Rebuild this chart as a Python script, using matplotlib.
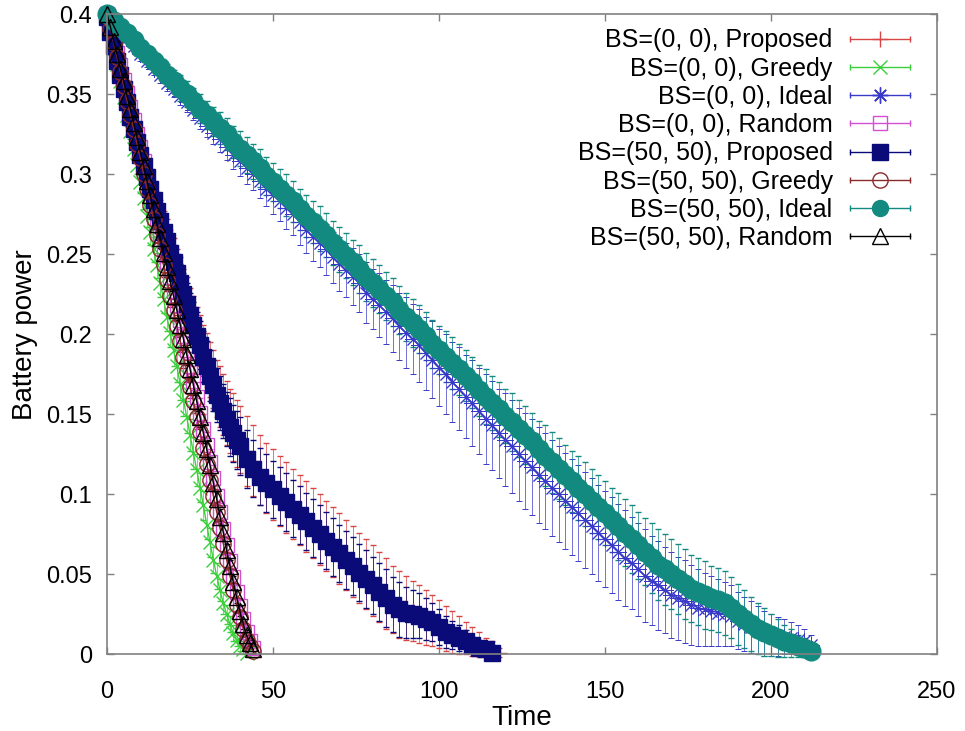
import numpy as np
import matplotlib
matplotlib.use("Agg")
import matplotlib.pyplot as plt
from matplotlib.lines import Line2D
from matplotlib.legend_handler import HandlerBase
from matplotlib.ticker import FormatStrFormatter, MultipleLocator

plt.rcParams['font.family'] = ['Liberation Sans', 'DejaVu Sans']

# --- time grids ---
t_greedy00 = np.arange(0, 43)
t_fast = np.arange(0, 45)
t_prop00 = np.r_[np.arange(0, 40), np.arange(40, 119, 2)]
t_prop50 = np.r_[np.arange(0, 40), np.arange(40, 117, 2)]
t_ideal = np.arange(0, 213, 2)

# --- BS=(0, 0) ---
prop00 = [.398, .390, .381, .373, .364, .356, .347, .339, .331, .323,
          .315, .308, .301, .294, .287, .280, .274, .267, .261, .254,
          .248, .241, .235, .228, .222, .215, .209, .202, .196, .190,
          .184, .178, .172, .166, .161, .156, .151, .146, .142, .138,
          .134, .127, .121, .115, .110, .106, .102, .098, .094, .090,
          .086, .082, .078, .074, .070, .066, .062, .058, .054, .050,
          .046, .042, .038, .034, .031, .029, .027, .025, .023, .021,
          .019, .016, .014, .012, .010, .008, .006, .004, .003, .001]
prop00_err = [.002, .002, .003, .003, .004, .004, .005, .005, .006, .006,
              .007, .007, .008, .008, .009, .009, .010, .010, .011, .011,
              .012, .012, .013, .013, .014, .014, .015, .015, .016, .016,
              .017, .017, .018, .018, .019, .019, .020, .020, .021, .021,
              .021, .022, .022, .022, .022, .022, .022, .022, .022, .022,
              .022, .022, .022, .022, .022, .022, .022, .022, .022, .022,
              .022, .022, .022, .021, .021, .020, .019, .018, .017, .016,
              .015, .014, .013, .012, .010, .009, .008, .006, .005, .003]

greedy00 = [.400, .390, .379, .369, .358, .348, .337, .327, .316, .306,
            .295, .285, .274, .264, .253, .243, .232, .222, .211, .201,
            .190, .180, .169, .159, .148, .137, .126, .115, .104, .093,
            .081, .070, .059, .049, .040, .032, .025, .019, .013, .009,
            .005, .003, .001]
greedy00_err = [.002, .002, .003, .003, .004, .004, .005, .005, .006, .006,
                .007, .007, .007, .008, .008, .008, .009, .009, .009, .009,
                .010, .010, .010, .010, .010, .010, .010, .010, .009, .009,
                .009, .009, .008, .008, .007, .007, .006, .005, .005, .004,
                .003, .003, .002]

ideal00 = [.399, .394, .389, .385, .380, .375, .371, .366, .362, .357,
           .353, .349, .345, .340, .335, .330, .326, .322, .317, .312,
           .308, .304, .300, .296, .291, .287, .283, .279, .275, .270,
           .265, .261, .257, .253, .248, .244, .240, .236, .232, .226,
           .222, .218, .214, .210, .205, .201, .197, .193, .188, .184,
           .179, .175, .170, .166, .161, .157, .152, .147, .143, .138,
           .134, .130, .125, .121, .117, .112, .108, .104, .100, .096,
           .092, .088, .084, .080, .076, .072, .068, .064, .060, .057,
           .053, .049, .046, .043, .040, .037, .035, .033, .031, .029,
           .028, .027, .026, .025, .024, .021, .019, .017, .015, .013,
           .012, .011, .011, .010, .009, .008, .006]
ideal00_err = [.002, .002, .003, .003, .003, .004,
               .004, .004, .005, .005, .005, .006, .006, .006, .007, .007,
               .007, .008, .008, .009, .009, .010, .010, .011, .011, .012,
               .012, .013, .013, .014, .014, .015, .015, .016, .016, .017,
               .017, .018, .018, .019, .019, .020, .020, .021, .021, .022,
               .022, .023, .023, .024, .024, .025, .025, .026, .026, .027,
               .027, .028, .028, .028, .029, .029, .029, .030, .030, .030,
               .030, .030, .030, .030, .030, .030, .030, .030, .030, .030,
               .030, .030, .030, .029, .029, .029, .028, .028, .027, .027,
               .026, .026, .025, .024, .023, .022, .021, .020, .019, .018,
               .017, .016, .015, .014, .013, .012, .011, .010, .009, .008, .006]

random00 = [.400, .392, .384, .376, .368, .359, .351, .342, .334, .325,
            .317, .308, .299, .290, .281, .272, .263, .254, .245, .236,
            .227, .218, .209, .199, .190, .180, .171, .161, .151, .141,
            .131, .120, .110, .099, .089, .078, .068, .058, .048, .039,
            .030, .022, .014, .008, .004]
random00_err = [.002, .002, .003, .003, .004, .004, .005, .005, .006, .006,
                .007, .007, .007, .008, .008, .008, .009, .009, .009, .009,
                .009, .009, .009, .009, .009, .009, .009, .009, .009, .009,
                .008, .008, .008, .007, .007, .006, .006, .005, .005, .004,
                .004, .003, .003, .002, .002]

# --- BS=(50, 50) ---
prop50 = [.398, .389, .380, .371, .362, .353, .345, .336, .328, .320,
          .312, .305, .298, .291, .284, .277, .271, .264, .258, .251,
          .245, .238, .232, .225, .219, .212, .206, .199, .193, .186,
          .180, .174, .168, .162, .157, .152, .147, .142, .138, .134,
          .130, .122, .116, .111, .107, .103, .099, .095, .091, .087,
          .083, .079, .075, .071, .067, .063, .059, .055, .051, .047,
          .043, .039, .035, .031, .028, .026, .025, .024, .022, .020,
          .017, .014, .012, .010, .008, .006, .004, .003, .001]
prop50_err = [.002, .002, .002, .003, .003, .004, .004, .005, .005, .006,
              .006, .007, .007, .008, .008, .009, .009, .010, .010, .011,
              .011, .012, .012, .013, .013, .014, .014, .015, .015, .016,
              .016, .016, .016, .017, .017, .017, .017, .018, .018, .018,
              .018, .018, .018, .018, .018, .018, .018, .018, .018, .018,
              .018, .018, .018, .018, .018, .018, .018, .018, .018, .018,
              .018, .018, .018, .017, .017, .016, .015, .014, .013, .012,
              .011, .010, .009, .008, .007, .005, .004, .003, .002]

greedy50 = [.400, .391, .382, .373, .364, .355, .346, .337, .328, .319,
            .310, .300, .291, .281, .272, .262, .253, .243, .234, .224,
            .215, .205, .196, .186, .177, .167, .158, .148, .139, .129,
            .119, .109, .099, .089, .079, .069, .059, .049, .040, .031,
            .023, .016, .009, .005, .002]
greedy50_err = [.002, .002, .003, .003, .003, .004, .004, .004, .005, .005,
                .005, .006, .006, .006, .006, .007, .007, .007, .007, .007,
                .007, .007, .007, .007, .007, .007, .007, .007, .007, .007,
                .006, .006, .006, .006, .005, .005, .005, .005, .004, .004,
                .004, .003, .003, .002, .002]

ideal50 = [.400, .396, .392, .388, .384, .379, .375, .371, .367, .362,
           .358, .354, .350, .346, .341, .337, .333, .329, .325, .320,
           .316, .312, .308, .304, .299, .295, .291, .287, .283, .278,
           .274, .270, .266, .262, .257, .253, .249, .245, .241, .236,
           .232, .228, .224, .220, .215, .211, .207, .203, .199, .194,
           .190, .186, .182, .178, .174, .170, .165, .161, .157, .153,
           .149, .145, .141, .137, .133, .128, .124, .120, .116, .112,
           .108, .104, .100, .096, .092, .088, .084, .080, .076, .072,
           .068, .064, .060, .056, .053, .050, .047, .044, .041, .039,
           .037, .035, .034, .032, .029, .025, .022, .019, .016, .014,
           .012, .010, .008, .007, .005, .004, .002]
ideal50_err = [.002, .003, .003, .004, .004, .005,
               .005, .006, .006, .007, .007, .008, .008, .008, .009, .009,
               .009, .010, .010, .010, .011, .011, .011, .012, .012, .012,
               .012, .013, .013, .013, .013, .013, .014, .014, .014, .014,
               .014, .014, .015, .015, .015, .015, .015, .015, .015, .015,
               .015, .015, .015, .015, .015, .016, .016, .016, .016, .016,
               .016, .017, .017, .017, .017, .018, .018, .018, .018, .018,
               .019, .019, .019, .019, .019, .020, .020, .020, .020, .020,
               .020, .021, .021, .021, .021, .021, .022, .022, .022, .022,
               .022, .022, .021, .021, .021, .020, .020, .020, .019, .019,
               .018, .017, .016, .015, .013, .012, .010, .009, .007, .006, .004]

random50 = [.400, .392, .383, .375, .366, .358, .349, .341, .332, .323,
            .314, .305, .296, .287, .278, .269, .260, .251, .242, .233,
            .224, .215, .206, .197, .187, .178, .168, .158, .148, .138,
            .128, .118, .107, .097, .086, .076, .065, .055, .045, .036,
            .027, .019, .012, .007, .003]
random50_err = [.002, .002, .002, .003, .003, .003, .004, .004, .004, .005,
                .005, .005, .005, .006, .006, .006, .006, .006, .006, .006,
                .006, .006, .006, .006, .006, .006, .006, .006, .006, .006,
                .006, .005, .005, .005, .005, .005, .004, .004, .004, .004,
                .003, .003, .003, .002, .002]

labels = ["BS=(0, 0), Proposed", "BS=(0, 0), Greedy", "BS=(0, 0), Ideal",
          "BS=(0, 0), Random", "BS=(50, 50), Proposed", "BS=(50, 50), Greedy",
          "BS=(50, 50), Ideal", "BS=(50, 50), Random"]

series = [
    (t_prop00, prop00, prop00_err),
    (t_greedy00, greedy00, greedy00_err),
    (t_ideal, ideal00, ideal00_err),
    (t_fast, random00, random00_err),
    (t_prop50, prop50, prop50_err),
    (t_fast, greedy50, greedy50_err),
    (t_ideal, ideal50, ideal50_err),
    (t_fast, random50, random50_err),
]

# colour, marker, face, size, edge width
styles = [
    ('#d94545', '+', None, 11, 1.0),
    ('#3ccf3c', 'x', None, 10, 1.0),
    ('#3a3ac8', (8, 2, 0), None, 12, 0.7),
    ('#d24fd2', 's', 'none', 10, 1.0),
    ('#0a0a78', 's', '#0a0a78', 12, 1.0),
    ('#8b2a2a', 'o', 'none', 11, 1.0),
    ('#138a80', 'o', '#138a80', 13.5, 1.0),
    ('#000000', '^', 'none', 11, 1.0),
]


class GnuplotKey(HandlerBase):
    # line with end ticks and the point symbol in the middle
    def create_artists(self, legend, orig, xdescent, ydescent, width, height,
                       fontsize, trans):
        y = height / 2 - ydescent
        x0, x1 = -xdescent, width - xdescent
        c = orig.get_color()
        line = Line2D([x0, x1], [y, y], color=c, lw=1.0)
        ends = Line2D([x0, x1], [y, y], ls='none', marker='|', ms=5,
                      mew=1.0, color=c)
        mark = Line2D([(x0 + x1) / 2], [y], ls='none', marker=orig.get_marker(),
                      ms=min(orig.get_markersize(), 11.5),
                      mfc=orig.get_markerfacecolor(),
                      mec=orig.get_markeredgecolor(), mew=1.0)
        for a in (line, ends, mark):
            a.set_transform(trans)
        return [line, ends, mark]


fig = plt.figure(figsize=(9.65, 7.31), dpi=100)
ax = fig.add_axes([0.111, 0.105, 0.860, 0.8755])

handles = []
for (t, y, e), (c, m, fc, ms, mw), lab in zip(series, styles, labels):
    cont = ax.errorbar(t, y, yerr=e, color=c, marker=m, ms=ms,
                       mfc=(c if fc is None else fc), mec=c, mew=mw,
                       lw=1.0, elinewidth=0.5, capsize=2, capthick=0.5,
                       label=lab)
    for art in cont.get_children():
        art.set_clip_on(False)
    handles.append(cont[0])

ax.set_xlim(0, 250)
ax.set_ylim(0, 0.4)
ax.xaxis.set_major_locator(MultipleLocator(50))
ax.yaxis.set_major_locator(MultipleLocator(0.05))
ax.yaxis.set_major_formatter(FormatStrFormatter('%g'))
ax.tick_params(direction='in', length=5, width=1, color='#808080',
               top=True, right=True, labelsize=17)
ax.tick_params(axis='x', pad=19)
ax.tick_params(axis='y', pad=11)
for sp in ax.spines.values():
    sp.set_color('#808080')
    sp.set_linewidth(1.2)

ax.set_xlabel("Time", fontsize=20, labelpad=2)
ax.set_ylabel("Battery power", fontsize=20, labelpad=6)

leg = ax.legend(handles, labels, handler_map={Line2D: GnuplotKey()},
                loc='upper right', bbox_to_anchor=(0.9675, 0.978),
                frameon=False, fontsize=18, markerfirst=False,
                handlelength=2.4, handletextpad=0.7, labelspacing=0.17,
                borderpad=0, borderaxespad=0)
for col in leg._legend_handle_box.get_children():
    col.align = 'right'

fig.savefig("out.png", dpi=100)
